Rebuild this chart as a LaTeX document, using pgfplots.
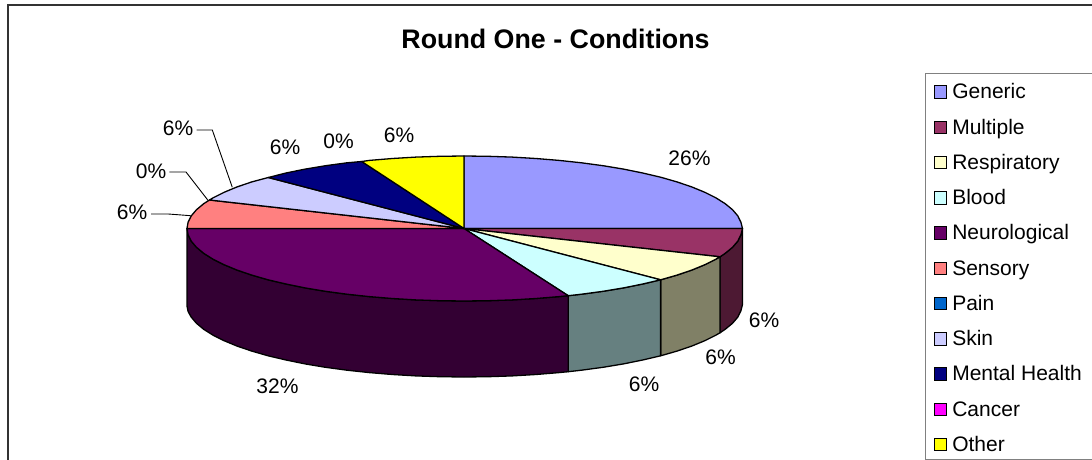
\documentclass[border=0pt]{standalone}
\usepackage{fontspec}
\setmainfont{Liberation Sans}
\usepackage{pgfplots}
\pgfplotsset{compat=1.18}

\definecolor{cGeneric}{HTML}{9999FF}
\definecolor{cMultiple}{HTML}{993366}
\definecolor{cResp}{HTML}{FFFFCC}
\definecolor{cBlood}{HTML}{CCFFFF}
\definecolor{cNeuro}{HTML}{660066}
\definecolor{cSensory}{HTML}{FF8080}
\definecolor{cPain}{HTML}{0066CC}
\definecolor{cSkin}{HTML}{CCCCFF}
\definecolor{cMental}{HTML}{000080}
\definecolor{cCancer}{HTML}{FF00FF}
\definecolor{cOther}{HTML}{FFFF00}
\definecolor{wMultiple}{HTML}{4D1933}
\definecolor{wResp}{HTML}{808066}
\definecolor{wBlood}{HTML}{668080}
\definecolor{wNeuro}{HTML}{330033}

\newcommand{\lab}{\fontsize{21}{24}\selectfont}

\begin{document}
\begin{tikzpicture}[x=1pt,y=1pt]
\useasboundingbox (0,0) rectangle (1092,460);
\begin{axis}[
    anchor=south west,
    at={(0pt,0pt)},
    scale only axis,
    width=1092pt,
    height=460pt,
    xmin=0, xmax=1092,
    ymin=0, ymax=460,
    y dir=reverse,
    hide axis,
    clip=false,
    slice/.style={draw=black,line width=1.3pt,line join=round,forget plot},
    leader/.style={draw=black,line width=0.9pt,forget plot},
    legend cell align=left,
    legend style={
        at={(axis cs:925,73)}, anchor=north west,
        draw=gray, line width=1.2pt,
        font=\lab,
        inner xsep=0pt, inner ysep=2pt,
        row sep=5.64pt,
        column sep=0pt,
        nodes={inner sep=0pt,text height=23.3pt,text depth=6.3pt},
    },
    legend image code/.code={
        \path (0pt,0pt) (25.5pt,0pt);
        \draw[draw=black,line width=1.1pt,#1] (8pt,-8pt) rectangle (20.5pt,4.5pt);
    },
]
% chart frame, the bottom and right are cut off
\addplot[draw=black!80,line width=2pt,forget plot] coordinates {(7.5,460) (7.5,5.5) (1092,5.5)};

% side walls
\addplot[slice,fill=wMultiple] coordinates {
 (742.5,228.5) (740.9,234.8) (737.8,241.1) (732.5,247.3) (725.2,253.3) (720,256.8)
 (720,332.8) (725.2,329.3) (732.5,323.3) (737.8,317.1) (740.9,310.8) (742.5,304.5) (742.5,228.5)};
\addplot[slice,fill=wResp] coordinates {
 (720,256.8) (716,259.1) (704.7,264.75) (691.7,270.1) (677,275.1) (660.6,279.8)
 (660.6,355.8) (677,351.1) (691.7,346.1) (704.7,340.75) (716,335.1) (720,332.8) (720,256.8)};
\addplot[slice,fill=wBlood] coordinates {
 (660.6,279.8) (642.7,284) (623.5,287.9) (603,291.3) (581.5,294.2) (568.2,295.7)
 (568.2,371.7) (581.5,370.2) (603,367.3) (623.5,363.9) (642.7,360) (660.6,355.8) (660.6,279.8)};
\addplot[slice,fill=wNeuro] coordinates {
 (568.2,295.7) (559.1,296.6) (535.9,298.5) (512.3,299.9) (488.2,300.7) (464,301)
 (439.9,300.7) (415.9,299.9) (392.4,298.5) (369.3,296.6) (347,294.2) (325.5,291.3)
 (305.1,287.9) (286,284) (268.1,279.8) (251.8,275.1) (237.1,270.1) (224.2,264.75)
 (212.9,259.1) (203.7,253.3) (196.5,247.3) (191.2,241.1) (188.1,234.8) (187,228.5)
 (187,306) (188.1,311.5) (191.2,317.1) (196.5,323.3) (203.7,329.3) (212.9,335.1)
 (224.2,340.75) (237.1,346.1) (251.8,351.1) (268.1,355.8) (286,360) (305.1,363.9)
 (325.5,367.3) (347,370.2) (369.3,372.6) (392.4,374.5) (415.9,375.9) (439.9,376.7)
 (464,377) (488.2,376.7) (512.3,375.9) (535.9,374.5) (559.1,372.6) (568.2,371.7) (568.2,295.7)};

% top slices
\addplot[slice,fill=cGeneric] coordinates {
 (464,228.5) (464,156) (488.2,156.3) (512.3,157.1) (535.9,158.5) (559.1,160.4) (581.5,162.8)
 (603,165.7) (623.5,169.1) (642.7,173) (660.6,177.2) (677,181.9) (691.7,186.9) (704.7,192.25)
 (716,197.9) (725.2,203.7) (732.5,209.7) (737.8,215.9) (740.9,222.2) (742.5,228.5) (464,228.5)};
\addplot[slice,fill=cMultiple] coordinates {
 (464,228.5) (742.5,228.5) (740.9,234.8) (737.8,241.1) (732.5,247.3) (725.2,253.3) (720,256.8) (464,228.5)};
\addplot[slice,fill=cResp] coordinates {
 (464,228.5) (720,256.8) (716,259.1) (704.7,264.75) (691.7,270.1) (677,275.1) (660.6,279.8) (464,228.5)};
\addplot[slice,fill=cBlood] coordinates {
 (464,228.5) (660.6,279.8) (642.7,284) (623.5,287.9) (603,291.3) (581.5,294.2) (568.2,295.7) (464,228.5)};
\addplot[slice,fill=cNeuro] coordinates {
 (464,228.5) (568.2,295.7) (559.1,296.6) (535.9,298.5) (512.3,299.9) (488.2,300.7) (464,301)
 (439.9,300.7) (415.9,299.9) (392.4,298.5) (369.3,296.6) (347,294.2) (325.5,291.3)
 (305.1,287.9) (286,284) (268.1,279.8) (251.8,275.1) (237.1,270.1) (224.2,264.75)
 (212.9,259.1) (203.7,253.3) (196.5,247.3) (191.2,241.1) (188.1,234.8) (187,228.5) (464,228.5)};
\addplot[slice,fill=cSensory] coordinates {
 (464,228.5) (187,228.5) (188.1,222.2) (191.2,215.9) (196.5,209.7) (203.7,203.7) (209.5,200) (464,228.5)};
\addplot[slice,fill=cSkin] coordinates {
 (464,228.5) (209.5,200) (212.9,197.9) (224.2,192.25) (237.1,186.9) (251.8,181.9) (268.3,177.5) (464,228.5)};
\addplot[slice,fill=cMental] coordinates {
 (464,228.5) (268.3,177.5) (286,173) (305.1,169.1) (325.5,165.7) (347,162.8) (361.7,161.5) (464,228.5)};
\addplot[slice,fill=cOther] coordinates {
 (464,228.5) (361.7,161.5) (369.3,160.4) (392.4,158.5) (415.9,157.1) (439.9,156.3) (464,156) (464,228.5)};

% leader lines
\addplot[leader] coordinates {(196.7,130) (212.3,130) (232.3,187.3)};
\addplot[leader] coordinates {(169.3,172) (186,172) (208.3,200.7)};
\addplot[leader] coordinates {(151,214) (168.3,214) (190.7,215.7)};

% legend
\addlegendimage{fill=cGeneric}\addlegendentry{Generic}
\addlegendimage{fill=cMultiple}\addlegendentry{Multiple}
\addlegendimage{fill=cResp}\addlegendentry{Respiratory}
\addlegendimage{fill=cBlood}\addlegendentry{Blood}
\addlegendimage{fill=cNeuro}\addlegendentry{Neurological}
\addlegendimage{fill=cSensory}\addlegendentry{Sensory}
\addlegendimage{fill=cPain}\addlegendentry{Pain}
\addlegendimage{fill=cSkin}\addlegendentry{Skin}
\addlegendimage{fill=cMental}\addlegendentry{Mental Health\hspace*{11pt}}
\addlegendimage{fill=cCancer}\addlegendentry{Cancer}
\addlegendimage{fill=cOther}\addlegendentry{Other}

% title and percent labels
\node[font=\fontsize{26.8}{30}\selectfont\bfseries] at (axis cs:555.5,39) {Round One - Conditions};
\node[font=\lab] at (axis cs:689.5,158) {26\%};
\node[font=\lab] at (axis cs:764,320) {6\%};
\node[font=\lab] at (axis cs:720.5,357) {6\%};
\node[font=\lab] at (axis cs:644,384) {6\%};
\node[font=\lab] at (axis cs:277.5,386) {32\%};
\node[font=\lab] at (axis cs:132,212) {6\%};
\node[font=\lab] at (axis cs:151,171) {0\%};
\node[font=\lab] at (axis cs:178,128) {6\%};
\node[font=\lab] at (axis cs:285,147) {6\%};
\node[font=\lab] at (axis cs:338.5,141) {0\%};
\node[font=\lab] at (axis cs:399,135) {6\%};
\end{axis}
\end{tikzpicture}
\end{document}
